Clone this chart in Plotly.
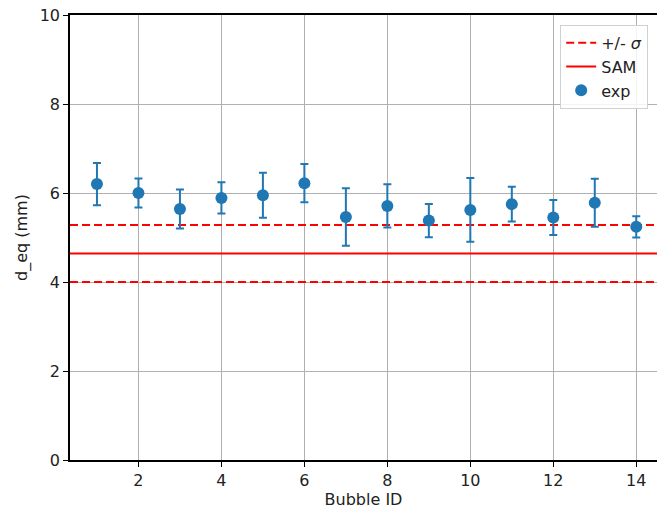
import plotly.graph_objects as go

bubble_id = list(range(1, 15))
d_eq = [6.20, 6.00, 5.64, 5.89, 5.95, 6.22, 5.46, 5.71, 5.38, 5.62, 5.75, 5.45, 5.78, 5.24]
d_err = [0.475, 0.325, 0.44, 0.35, 0.505, 0.43, 0.645, 0.485, 0.375, 0.715, 0.39, 0.395, 0.54, 0.24]
sam_value = 4.64
sam_sigma = 0.64
x_range = [0.35, 14.5]
y_range = [0, 10]

blue = "#1f77b4"
red = "#ff0000"
font_family = "DejaVu Sans"

fig = go.Figure()

fig.add_trace(go.Scatter(
    x=[x_range[0], x_range[1], None, x_range[0], x_range[1]],
    y=[sam_value + sam_sigma, sam_value + sam_sigma, None, sam_value - sam_sigma, sam_value - sam_sigma],
    mode="lines", line=dict(color=red, width=2, dash="8px,4px"),
    name="+/- <i>σ</i>",
))
fig.add_trace(go.Scatter(
    x=x_range, y=[sam_value, sam_value],
    mode="lines", line=dict(color=red, width=2),
    name="SAM",
))
fig.add_trace(go.Scatter(
    x=bubble_id, y=d_eq, mode="markers",
    marker=dict(color=blue, size=12),
    error_y=dict(type="data", array=d_err, visible=True, color=blue, thickness=2, width=4),
    name="exp",
))

fig.update_layout(
    width=657, height=513,
    margin=dict(l=70, r=0, t=15, b=53),
    paper_bgcolor="white", plot_bgcolor="white",
    font=dict(family=font_family, size=16, color="#222222"),
    showlegend=True,
    legend=dict(
        x=0.985, y=0.978, xanchor="right", yanchor="top",
        bgcolor="rgba(255,255,255,0.85)", bordercolor="#d0d0d0", borderwidth=1,
        font=dict(size=16),
        tracegroupgap=0,
    ),
)
fig.update_xaxes(
    range=x_range, tickvals=[2, 4, 6, 8, 10, 12, 14],
    showgrid=True, gridcolor="#b0b0b0", gridwidth=1,
    showline=True, linecolor="black", linewidth=1.5, mirror=True,
    ticks="outside", ticklen=5, tickcolor="black",
    zeroline=False,
    title=dict(text="Bubble ID", font=dict(size=16), standoff=4),
)
fig.update_yaxes(
    range=y_range, tickvals=[0, 2, 4, 6, 8, 10],
    showgrid=True, gridcolor="#b0b0b0", gridwidth=1,
    showline=True, linecolor="black", linewidth=1.5, mirror=False,
    ticks="outside", ticklen=5, tickcolor="black",
    zeroline=False,
    title=dict(text="d_eq (mm)", font=dict(size=16), standoff=8),
)

fig.write_html("out.html")
